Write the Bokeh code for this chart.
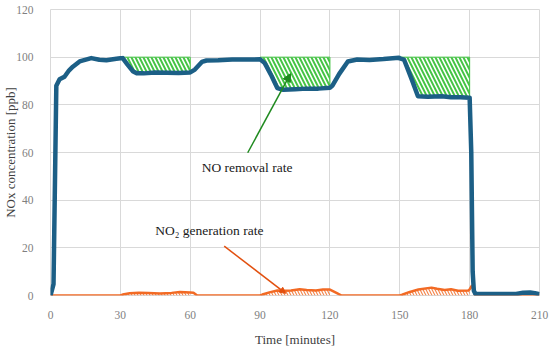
import numpy as np
from bokeh.plotting import figure
from bokeh.models import Arrow, NormalHead, Label, FixedTicker, Range1d
from bokeh.embed import file_html
from bokeh.resources import INLINE

# ---------------- data ----------------
no_t = [0, 1.3, 2.5, 3.9, 6, 8, 9.6, 12.5, 17.5, 21, 24, 28.3, 30, 31, 33, 35.5, 37, 40, 45, 50,
        55, 60, 62, 65, 67, 72, 78, 85, 90, 92, 95, 97.4, 100, 105, 110, 115, 120, 121, 124, 127.7,
        131.7, 137, 143, 149.6, 150, 151.8, 155, 157.8, 162, 168, 172, 176, 180, 180.7, 181.3, 181.8,
        182.5, 190, 200, 203, 206, 208, 210]
no_y = [0, 4.8, 88, 90.7, 91.8, 94.5, 96, 98.2, 99.6, 98.9, 98.7, 99.3, 99.5, 99.6, 97, 94, 93.3, 93.2, 93.6, 93.5,
        93.4, 93.6, 94.8, 98, 98.6, 98.7, 99, 99, 99.1, 97.5, 92, 87, 86.3, 86.5, 86.8, 86.8, 87.2, 88, 93, 98.2,
        99, 98.8, 99.2, 99.8, 99.5, 99, 91, 83.6, 83.4, 83.6, 83.2, 83.2, 83, 60, 10, 2,
        0.7, 0.6, 0.6, 1.2, 1.3, 1.0, 0.5]

no2_t = [0, 30, 31, 34, 38, 42, 47, 52, 55.6, 60, 61.4, 63, 90, 91, 94, 97.4, 100, 103.3, 107, 110, 114,
         117, 120, 123, 125, 150, 151, 154.3, 158, 163.6, 166, 169.3, 172, 175, 179.5, 180, 181, 182.3, 183, 210]
no2_y = [0, 0, 0.4, 0.9, 1.2, 1.1, 0.8, 1.1, 1.5, 1.3, 1.2, 0, 0, 0.4, 1.3, 2.1, 2.0, 2.1, 2.6, 2.3, 2.1,
         2.5, 2.5, 1.0, 0, 0, 0.3, 1.5, 2.5, 3.3, 2.8, 2.3, 2.6, 2.0, 2.1, 2.6, 4.3, 0.3, 0, 0]

phases = [(30, 60), (90, 120), (150, 180)]
x_ticks = [0, 30, 60, 90, 120, 150, 180, 210]
y_ticks = [0, 20, 40, 60, 80, 100, 120]
baseline = 100

# ---------------- styles ----------------
FONT = "'Liberation Serif', serif"
BLUE = "#1c5f86"
ORANGE = "#f26a24"
GREEN = "#45c445"
GRID = "#d9d9d9"

p = figure(width=550, height=349, output_backend="svg", toolbar_location=None,
           x_range=Range1d(0, 210), y_range=Range1d(0, 120),
           min_border_top=9, min_border_right=11, min_border_left=0, min_border_bottom=0)
p.background_fill_color = "white"
p.border_fill_color = "white"
p.outline_line_color = GRID

p.xaxis.ticker = FixedTicker(ticks=x_ticks)
p.yaxis.ticker = FixedTicker(ticks=y_ticks)
p.xgrid.ticker = FixedTicker(ticks=x_ticks)
p.ygrid.ticker = FixedTicker(ticks=y_ticks)
p.xgrid.grid_line_color = GRID
p.ygrid.grid_line_color = GRID
for ax in (p.xaxis[0], p.yaxis[0]):
    ax.axis_line_color = None
    ax.major_tick_line_color = None
    ax.minor_tick_line_color = None
    ax.major_label_text_font = FONT
    ax.major_label_text_font_size = "11.5px"
    ax.major_label_text_color = "#7f7f7f"
    ax.axis_label_text_font = FONT
    ax.axis_label_text_font_size = "13px"
    ax.axis_label_text_font_style = "normal"
    ax.axis_label_text_color = "#404040"
p.xaxis.axis_label = "Time [minutes]"
p.yaxis.axis_label = "NOx concentration [ppb]"
p.xaxis.major_label_standoff = 9
p.xaxis.axis_label_standoff = 10
p.yaxis.major_label_standoff = 11
p.yaxis.axis_label_standoff = -5

nt = np.array(no_t); ny = np.array(no_y)
ot = np.array(no2_t); oy = np.array(no2_y)

# hatched areas
for a, b in phases:
    m = (nt >= a) & (nt <= b)
    xs = list(nt[m]) + [b, a]
    ys = list(ny[m]) + [baseline, baseline]
    p.patch(xs, ys, fill_color=None, line_color=GREEN, line_width=1,
            hatch_pattern="left_diagonal_line", hatch_color=GREEN,
            hatch_scale=8, hatch_weight=2)
    m2 = (ot >= a) & (ot <= b)
    xs2 = list(ot[m2]) + [b, a]
    ys2 = list(oy[m2]) + [0, 0]
    p.patch(xs2, ys2, fill_color=None, line_color=None,
            hatch_pattern="left_diagonal_line", hatch_color=ORANGE,
            hatch_scale=6, hatch_weight=1.2, hatch_alpha=0.8)

p.line(ot, oy, line_color=ORANGE, line_width=2.5)
p.line(nt, ny, line_color=BLUE, line_width=4.5, line_join="round")

# annotations
p.add_layout(Arrow(end=NormalHead(size=8, fill_color="#1f8a1f", line_color="#1f8a1f"),
                   x_start=84.7, y_start=59.9, x_end=103.1, y_end=93.1,
                   line_color="#1f8a1f", line_width=1.5))
p.add_layout(Arrow(end=NormalHead(size=6, fill_color="#e2500f", line_color="#e2500f"),
                   x_start=74.6, y_start=20.7, x_end=101, y_end=0.9,
                   line_color="#e2500f", line_width=1.5))
p.add_layout(Label(x=84.4, y=53.9, text="NO removal rate", text_font=FONT,
                   text_font_size="13.5px", text_color="#1a1a1a",
                   text_align="center", text_baseline="middle"))
p.add_layout(Label(x=68.2, y=27.3, text="NO\u2082 generation rate", text_font=FONT,
                   text_font_size="13.5px", text_color="#1a1a1a",
                   text_align="center", text_baseline="middle"))

open("out.html", "w").write(file_html(p, INLINE))
